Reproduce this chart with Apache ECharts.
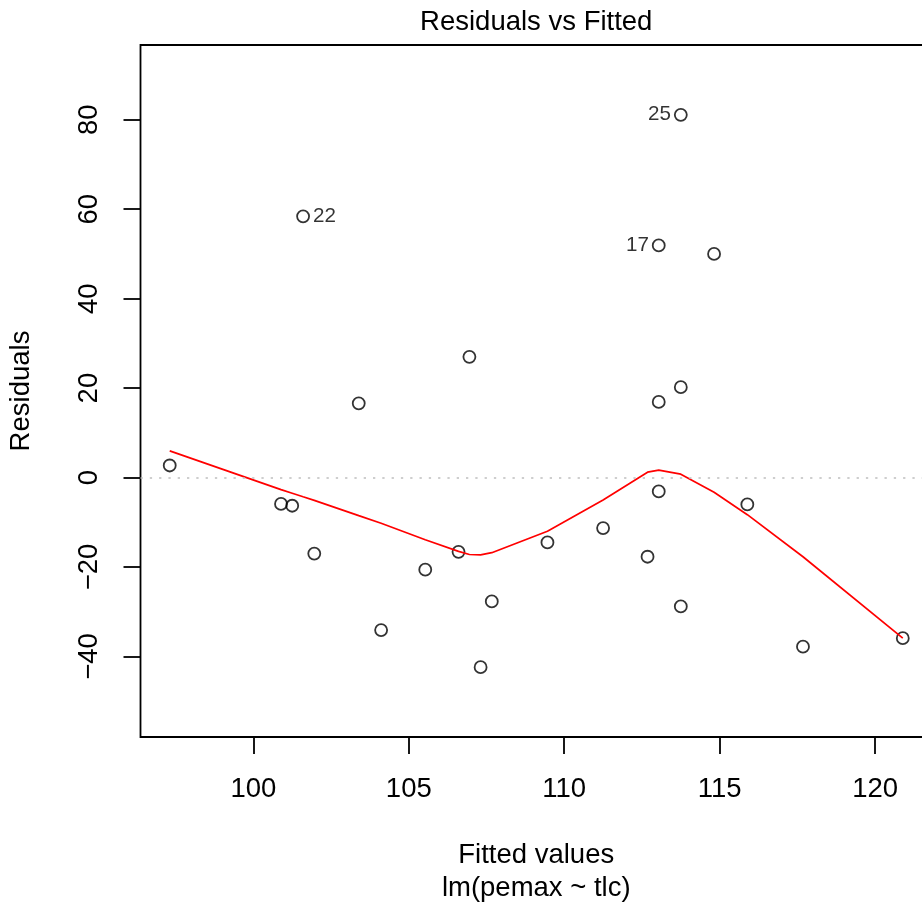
<!DOCTYPE html>
<html>
<head>
<meta charset="utf-8">
<script src="https://cdn.jsdelivr.net/npm/echarts@6/dist/echarts.min.js"></script>
<style>
html,body{margin:0;padding:0;background:#fff;}
#chart{width:922px;height:903px;}
</style>
</head>
<body>
<div id="chart"></div>
<script>
// ---- data ----
const fitted = [97.31, 100.89, 101.25, 101.60, 101.96, 103.39, 104.11, 105.53, 106.60, 106.95,
                107.31, 107.67, 109.46, 111.25, 112.68, 113.04, 113.04, 113.04, 113.75, 113.75,
                113.75, 114.82, 115.89, 117.68, 120.89];
const resid  = [2.7, -5.9, -6.3, 58.4, -17.0, 16.6, -34.1, -20.6, -16.6, 27.0,
                -42.4, -27.7, -14.5, -11.3, -17.7, 51.9, 16.9, -3.1, 81.1, 20.2,
                -28.8, 50.0, -6.0, -37.8, -35.9];
const obsLabels = ['', '', '', '22', '', '', '', '', '', '',
                   '', '', '', '', '', '17', '', '', '25', '',
                   '', '', '', '', ''];
const smoothX = [97.31, 100.89, 101.25, 101.60, 101.96, 103.39, 104.11, 105.53, 106.60, 106.95,
                 107.31, 107.67, 109.46, 111.25, 112.68, 113.04, 113.75, 114.82, 115.89, 117.68, 120.89];
const smoothY = [5.97, -2.7, -3.5, -4.3, -5.1, -8.5, -10.2, -13.9, -16.5, -17.2,
                 -17.3, -16.8, -12.0, -5.0, 1.2, 1.65, 0.76, -3.3, -8.3, -17.7, -35.9];
const xTicks = [100, 105, 110, 115, 120];
const yTicks = [-40, -20, 0, 20, 40, 60, 80];
const titleText = 'Residuals vs Fitted';
const xName = 'Fitted values\nlm(pemax ~ tlc)';
const yName = 'Residuals';

// ---- chart ----
const FONT = '"Liberation Sans", Arial, Helvetica, sans-serif';
const FS = 27.5;
const xMin = 96.37, xMax = 121.83, yMin = -58.0, yMax = 96.7;
const gridLeft = 140.5, gridTop = 45, gridWidth = 791.5, gridHeight = 692;
const plotCenterX = gridLeft + gridWidth / 2;
const xMid = (Math.min(...fitted) + Math.max(...fitted)) / 2;
const minusFmt = v => (v < 0 ? '\u2212' + (-v) : String(v));

const pointData = fitted.map((x, i) => {
  const item = { value: [x, resid[i]] };
  if (obsLabels[i]) {
    item.label = {
      show: true,
      formatter: obsLabels[i],
      position: x < xMid ? 'right' : 'left',
      distance: 3,
      fontSize: 20.6,
      fontFamily: FONT,
      color: '#000'
    };
  }
  return item;
});
const smoothData = smoothX.map((x, i) => [x, smoothY[i]]);

const chart = echarts.init(document.getElementById('chart'), null, { renderer: 'canvas' });
chart.setOption({
  animation: false,
  backgroundColor: '#ffffff',
  title: {
    text: titleText,
    left: plotCenterX,
    top: 8,
    padding: 0,
    textAlign: 'center',
    textStyle: { fontFamily: FONT, fontSize: FS, lineHeight: 28, fontWeight: 'normal', color: '#000' }
  },
  grid: {
    left: gridLeft, top: gridTop, width: gridWidth, height: gridHeight,
    outerBoundsMode: 'none',
    containLabel: false,
    show: true, borderColor: '#000', borderWidth: 1.8, backgroundColor: 'transparent'
  },
  xAxis: {
    type: 'value', min: xMin, max: xMax,
    name: xName, nameLocation: 'middle', nameGap: 102,
    nameTextStyle: { fontFamily: FONT, fontSize: FS, color: '#000', lineHeight: 33 },
    axisLine: { show: false, onZero: false },
    splitLine: { show: false },
    axisTick: { show: true, length: 17, customValues: xTicks, lineStyle: { color: '#000', width: 1.8 } },
    axisLabel: { customValues: xTicks, margin: 38.2, lineHeight: 28, fontFamily: FONT, fontSize: FS, color: '#000' }
  },
  yAxis: {
    type: 'value', min: yMin, max: yMax,
    name: yName, nameLocation: 'middle', nameGap: 105.2,
    nameTextStyle: { fontFamily: FONT, fontSize: FS, color: '#000', lineHeight: 28 },
    axisLine: { show: false, onZero: false },
    splitLine: { show: false },
    axisTick: { show: true, length: 17, customValues: yTicks, lineStyle: { color: '#000', width: 1.8 } },
    axisLabel: { customValues: yTicks, formatter: minusFmt, rotate: 90, margin: 36.6, lineHeight: 28, fontFamily: FONT, fontSize: FS, color: '#000' }
  },
  series: [
    {
      type: 'scatter',
      data: pointData,
      symbol: 'circle',
      symbolSize: 12,
      itemStyle: { color: 'rgba(0,0,0,0)', borderColor: '#000', borderWidth: 1.8 },
      emphasis: { disabled: true },
      z: 2
    },
    {
      type: 'line',
      data: smoothData,
      symbol: 'none',
      lineStyle: { color: '#ff0000', width: 1.7 },
      emphasis: { disabled: true },
      z: 3
    },
    {
      type: 'line',
      data: [],
      markLine: {
        silent: true,
        symbol: ['none', 'none'],
        label: { show: false },
        lineStyle: { type: [2.3, 7], color: '#bebebe', width: 1.7 },
        data: [{ yAxis: 0 }]
      },
      z: 4
    }
  ]
});
</script>
</body>
</html>
